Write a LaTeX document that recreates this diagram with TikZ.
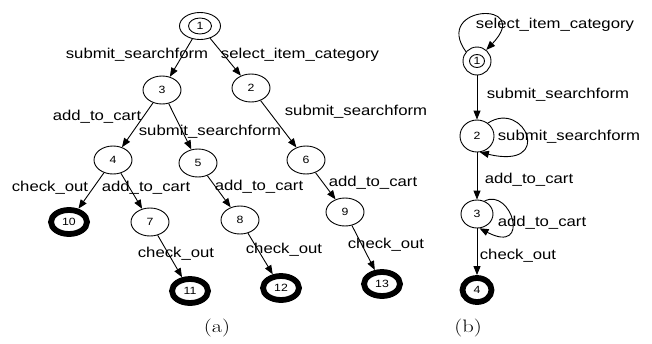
\documentclass[tikz,border=0pt]{standalone}
\usepackage{fontspec}
\usepackage{graphicx}
\newfontfamily\lblfont{Liberation Sans}
\usetikzlibrary{shapes.geometric,arrows.meta}
\newcommand\lb[1]{\scalebox{1.17}[1]{\lblfont\fontsize{14.3}{16}\selectfont #1}}
\newcommand\nm[1]{\scalebox{1.17}[1]{\lblfont\fontsize{10.5}{12}\selectfont #1}}
\newcommand\captxt[1]{\scalebox{1.25}[1]{\fontsize{18}{20}\selectfont #1}}
\begin{document}
\begin{tikzpicture}[x=1pt,y=-1pt,
  st/.style={ellipse,draw,line width=0.9pt,inner sep=0pt,minimum width=38pt,minimum height=28pt},
  acc/.style={ellipse,draw,line width=5.8pt,inner sep=0pt,minimum width=36pt,minimum height=24pt},
  lbl/.style={inner sep=0pt},
  tr/.style={draw,line width=0.9pt,-{Triangle[length=9pt,width=7pt]}}
]
\useasboundingbox (0,0) rectangle (652,343);
% ---------- (a) ----------
\node[st,minimum width=41pt,minimum height=27pt] (a1) at (200,26) {};
\node[ellipse,draw,line width=0.9pt,inner sep=0pt,minimum width=23pt,minimum height=16pt] (a1i) at (a1.center) {\nm{1}};
\node[st] (a3) at (162,90) {\nm{3}};
\node[st] (a2) at (251,88) {\nm{2}};
\node[st] (a4) at (113,160) {\nm{4}};
\node[st] (a5) at (198,163) {\nm{5}};
\node[st] (a6) at (306,160) {\nm{6}};
\node[acc] (a10) at (69,222) {\nm{10}};
\node[st] (a7) at (150,222) {\nm{7}};
\node[st] (a8) at (240,220) {\nm{8}};
\node[st] (a9) at (345,212) {\nm{9}};
\node[acc] (a11) at (190,291) {\nm{11}};
\node[acc] (a12) at (281,288) {\nm{12}};
\node[acc] (a13) at (382,284) {\nm{13}};

\draw[tr] (a1) -- (a3);
\draw[tr] (a1) -- (a2);
\draw[tr] (a3) -- (a4);
\draw[tr] (a3) -- (a5);
\draw[tr] (a2) -- (a6);
\draw[tr] (a4) -- (a10);
\draw[tr] (a4) -- (a7);
\draw[tr] (a5) -- (a8);
\draw[tr] (a6) -- (a9);
\draw[tr] (a7) -- (a11);
\draw[tr] (a8) -- (a12);
\draw[tr] (a9) -- (a13);

\node[lbl] (l13) at (137,55) {\lb{submit\_searchform}};
\node[lbl] (l12) at (300,55) {\lb{select\_item\_category}};
\node[lbl] (l34) at (97,117) {\lb{add\_to\_cart}};
\node[lbl] (l35) at (210,132) {\lb{submit\_searchform}};
\node[lbl] (l26) at (356,112) {\lb{submit\_searchform}};
\node[lbl] (l410) at (50,188) {\lb{check\_out}};
\node[lbl] (l47) at (146,188) {\lb{add\_to\_cart}};
\node[lbl] (l58) at (259,187) {\lb{add\_to\_cart}};
\node[lbl] (l69) at (373,183) {\lb{add\_to\_cart}};
\node[lbl] (l711) at (176,254) {\lb{check\_out}};
\node[lbl] (l812) at (284,250) {\lb{check\_out}};
\node[lbl] (l913) at (386,245) {\lb{check\_out}};
\node[lbl] (capa) at (217,328) {\captxt{(a)}};

% ---------- (b) ----------
\node[st,minimum width=28pt,minimum height=28pt] (b1) at (477,61) {};
\node[ellipse,draw,line width=0.9pt,inner sep=0pt,minimum width=15pt,minimum height=13pt] (b1i) at (b1.center) {\nm{1}};
\node[st,minimum width=34pt,minimum height=32pt] (b2) at (477,136) {\nm{2}};
\node[st,minimum width=32pt,minimum height=28pt] (b3) at (477,214) {\nm{3}};
\node[acc,minimum width=29pt,minimum height=24pt] (b4) at (477,290) {\nm{4}};

\draw[tr] (b1.140) .. controls +(-34,-47) and +(48,-50) .. (b1.50);
\draw[tr] (b1) -- (b2);
\draw[tr] (b2.50) .. controls +(37,-24) and +(75,18) .. (b2.-80);
\draw[tr] (b2) -- (b3);
\draw[tr] (b3.60) .. controls +(27,-14) and +(52,27) .. (b3.-80);
\draw[tr] (b3) -- (b4);

\node[lbl] (lb11) at (555,25) {\lb{select\_item\_category}};
\node[lbl] (lb12) at (558,95) {\lb{submit\_searchform}};
\node[lbl] (lb22) at (569,137) {\lb{submit\_searchform}};
\node[lbl] (lb23) at (529,180) {\lb{add\_to\_cart}};
\node[lbl] (lb33) at (542,223) {\lb{add\_to\_cart}};
\node[lbl] (lb34) at (518,256) {\lb{check\_out}};
\node[lbl] (capb) at (468,328) {\captxt{(b)}};
\end{tikzpicture}
\end{document}
